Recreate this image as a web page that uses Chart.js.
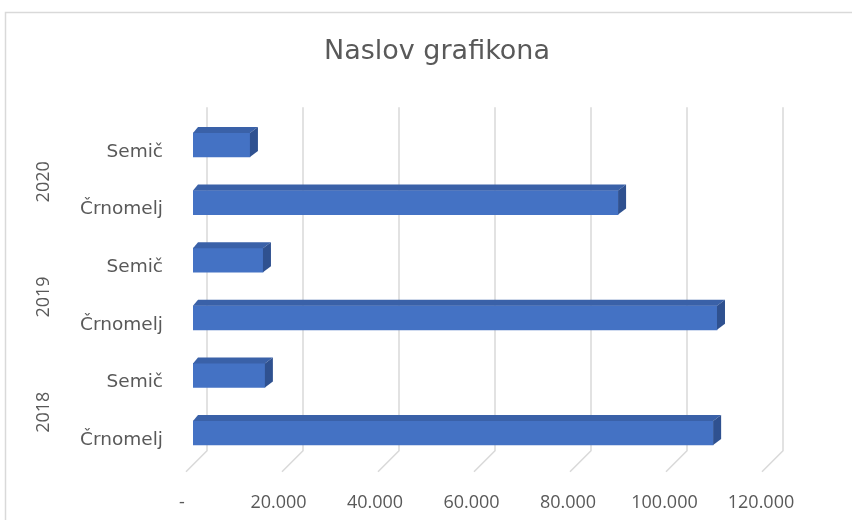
<!DOCTYPE html>
<html>
<head>
<meta charset="utf-8">
<script src="https://cdn.jsdelivr.net/npm/chart.js@4/dist/chart.umd.min.js"></script>
<style>
  html, body { margin: 0; padding: 0; background: #fff; }
  #wrap { width: 852px; height: 520px; }
</style>
</head>
<body>
<div id="wrap"><canvas id="grafikon"></canvas></div>
<script>
/* podatki */
const years = ['2018', '2018', '2019', '2019', '2020', '2020'];
const places = ['Črnomelj', 'Semič', 'Črnomelj', 'Semič', 'Črnomelj', 'Semič'];
const values = [107800, 14900, 108600, 14500, 88100, 11800];
const xTicks = [0, 20000, 40000, 60000, 80000, 100000, 120000];
const title = 'Naslov grafikona';

const textGrey = '#595959';

function fmt(v) {
  return v === 0 ? '-' : (v / 1000) + '.000';
}

/* 3D look: okvir, mreza, stranice stolpcev, naslov, letnice */
const threeD = {
  id: 'threeD',
  beforeDraw(chart) {
    const ctx = chart.ctx;
    ctx.save();
    ctx.fillStyle = '#fff';
    ctx.fillRect(0, 0, chart.width, chart.height);
    ctx.strokeStyle = '#d9d9d9';
    ctx.lineWidth = 1.5;
    ctx.beginPath();
    ctx.moveTo(5.5, chart.height);
    ctx.lineTo(5.5, 12.5);
    ctx.lineTo(chart.width, 12.5);
    ctx.stroke();
    ctx.restore();
  },
  beforeDatasetsDraw(chart) {
    const ctx = chart.ctx;
    const xs = chart.scales.x;
    const area = chart.chartArea;
    ctx.save();
    ctx.strokeStyle = '#d9d9d9';
    ctx.lineWidth = 1.5;
    xTicks.forEach(v => {
      const xb = xs.getPixelForValue(v) + 14 - 3 * v / 120000;
      ctx.beginPath();
      ctx.moveTo(xb, area.top - 9);
      ctx.lineTo(xb, area.bottom - 11);
      ctx.lineTo(xb - 21, area.bottom + 10);
      ctx.stroke();
    });
    ctx.restore();
  },
  afterDatasetsDraw(chart) {
    const ctx = chart.ctx;
    const meta = chart.getDatasetMeta(0);
    ctx.save();
    meta.data.forEach(bar => {
      const x0 = bar.base, x1 = bar.x;
      const yt = bar.y - bar.height / 2, yb = bar.y + bar.height / 2;
      ctx.fillStyle = '#3a61a8';
      ctx.beginPath();
      ctx.moveTo(x0, yt);
      ctx.lineTo(x1, yt);
      ctx.lineTo(x1 + 8, yt - 6);
      ctx.lineTo(x0 + 5, yt - 6);
      ctx.closePath();
      ctx.fill();
      ctx.fillStyle = '#2f5190';
      ctx.beginPath();
      ctx.moveTo(x1, yt);
      ctx.lineTo(x1 + 8, yt - 6);
      ctx.lineTo(x1 + 8, yb - 6);
      ctx.lineTo(x1, yb);
      ctx.closePath();
      ctx.fill();
    });
    ctx.restore();
  },
  afterDraw(chart) {
    const ctx = chart.ctx;
    const ys = chart.scales.y;
    ctx.save();
    ctx.fillStyle = textGrey;
    ctx.textAlign = 'center';
    ctx.textBaseline = 'middle';
    ctx.font = '27px "DejaVu Sans"';
    ctx.fillText(title, 437, 52);
    ctx.font = '18px "Open Sans"';
    for (let i = 0; i < years.length; i += 2) {
      const yc = (ys.getPixelForValue(i) + ys.getPixelForValue(i + 1)) / 2 + 8;
      ctx.save();
      ctx.translate(44, yc);
      ctx.rotate(-Math.PI / 2);
      ctx.fillText(years[i], 0, 0);
      ctx.restore();
    }
    ctx.restore();
  }
};

const data = {
  labels: places,
  datasets: [{
    label: 'Vrednost',
    data: values,
    backgroundColor: '#4472c4',
    borderWidth: 0,
    barThickness: 24
  }]
};

const config = {
  type: 'bar',
  data: data,
  options: {
    indexAxis: 'y',
    responsive: true,
    maintainAspectRatio: false,
    animation: false,
    layout: {
      padding: { left: 0, right: 80, top: 116.2, bottom: 0 }
    },
    plugins: {
      legend: { display: false },
      tooltip: { enabled: false },
      title: { display: false }
    },
    scales: {
      x: {
        min: 0,
        max: 120000,
        afterBuildTicks(s) {
          s.ticks = xTicks.map(v => ({ value: v }));
        },
        afterFit(s) { s.height = 58.2; },
        grid: { display: false },
        border: { display: false },
        ticks: {
          color: textGrey,
          font: { family: 'Open Sans', size: 18 },
          padding: 22,
          labelOffset: -11,
          maxRotation: 0,
          autoSkip: false,
          callback: v => fmt(v)
        }
      },
      y: {
        reverse: true,
        afterFit(s) { s.width = 193; },
        grid: { display: false, drawTicks: false },
        border: { display: false },
        ticks: {
          color: textGrey,
          font: { family: 'DejaVu Sans', size: 18.5 },
          padding: 30,
          labelOffset: 7
        }
      }
    }
  },
  plugins: [threeD]
};

var myChart = new Chart(
  document.getElementById('grafikon'),
  config
);
</script>
</body>
</html>
